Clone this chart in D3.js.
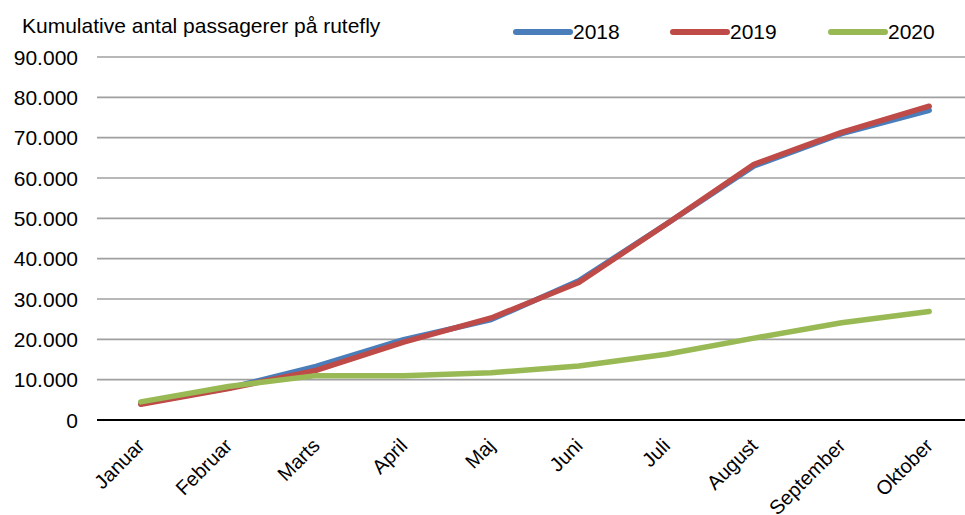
<!DOCTYPE html>
<html><head><meta charset="utf-8">
<script src="https://cdn.jsdelivr.net/npm/d3@7"></script>
<style>body{margin:0;background:#fff}svg{display:block}text{font-family:"Liberation Sans",Arial,sans-serif}</style>
</head><body>
<svg id="c" width="965" height="515"></svg>
<script>
const months = ["Januar","Februar","Marts","April","Maj","Juni","Juli","August","September","Oktober"];
const s2018 = [4100, 7900, 13300, 19900, 24900, 34500, 48600, 63000, 71000, 76800];
const s2019 = [3900, 7800, 12300, 19300, 25300, 34100, 48600, 63400, 71300, 77800];
const s2020 = [4500, 8300, 11000, 11000, 11700, 13400, 16300, 20300, 24100, 26900];
const yTicks = [0,10000,20000,30000,40000,50000,60000,70000,80000,90000];
const seriesNames = ["2018","2019","2020"];
const colors = ["#4A7EBB","#BE4B48","#98B954"];

const svg = d3.select("#c");
const pLeft = 97, pRight = 973, pTop = 57, pBottom = 420;
const x = d3.scalePoint().domain(months).range([pLeft, pRight]).padding(0.5);
const y = d3.scaleLinear().domain([0, 90000]).range([pBottom, pTop]);
const fmt = v => v === 0 ? "0" : d3.format(",")(v).replace(/,/g, ".");

// grid
svg.append("g").selectAll("line").data(yTicks.filter(d => d > 0)).join("line")
  .attr("x1", pLeft).attr("x2", 965).attr("y1", d => y(d)).attr("y2", d => y(d))
  .attr("stroke", "#a0a0a0").attr("stroke-width", 1.6);

// y labels
svg.append("g").selectAll("text").data(yTicks).join("text")
  .attr("x", 78).attr("y", d => y(d)).attr("dy", "0.36em").attr("text-anchor", "end")
  .attr("font-size", 21).attr("fill", "#000").text(fmt);

// x axis
svg.append("line").attr("x1", pLeft).attr("x2", 965).attr("y1", pBottom).attr("y2", pBottom)
  .attr("stroke", "#000").attr("stroke-width", 2.2);

svg.append("g").selectAll("text").data(months).join("text")
  .attr("transform", d => `translate(${x(d) + 5},${pBottom + 27}) rotate(-45)`)
  .attr("text-anchor", "end").attr("font-size", 20).attr("fill", "#000").text(d => d);

// lines
const line = d3.line().x((d, i) => x(months[i])).y(d => y(d));
[s2018, s2019, s2020].forEach((s, i) => {
  svg.append("path").datum(s).attr("d", line).attr("fill", "none")
    .attr("stroke", colors[i]).attr("stroke-width", 5.5).attr("stroke-linejoin", "round").attr("stroke-linecap", "round");
});

// title
svg.append("text").attr("x", 22).attr("y", 33).attr("font-size", 21).attr("fill", "#000")
  .text("Kumulative antal passagerer på rutefly");

// legend
const legX = [516, 673, 831];
seriesNames.forEach((n, i) => {
  svg.append("line").attr("x1", legX[i]).attr("x2", legX[i] + 54).attr("y1", 32).attr("y2", 32)
    .attr("stroke", colors[i]).attr("stroke-width", 6).attr("stroke-linecap", "round");
  svg.append("text").attr("x", legX[i] + 57).attr("y", 39)
    .attr("font-size", 21).attr("fill", "#000").text(n);
});
</script>
</body></html>
